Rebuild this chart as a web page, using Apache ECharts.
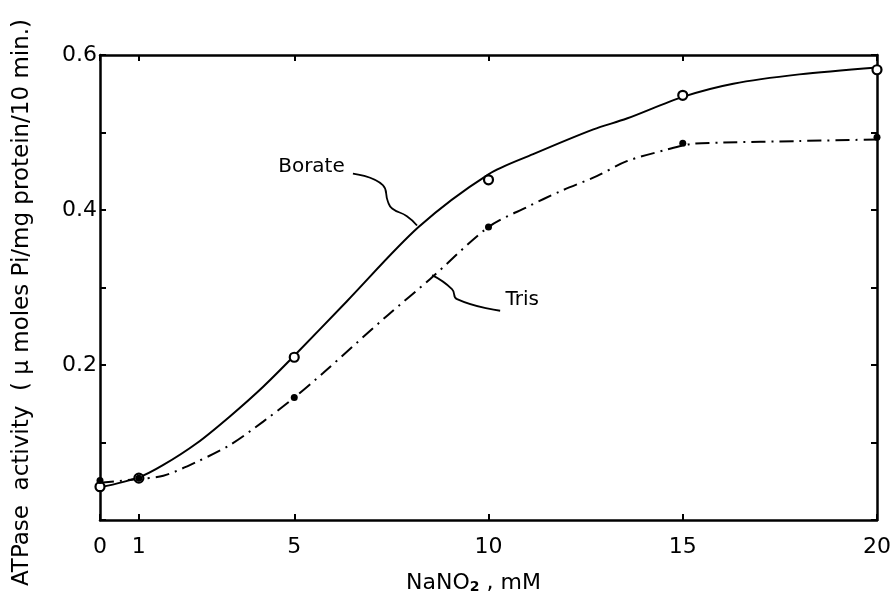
<!DOCTYPE html>
<html><head><meta charset="utf-8">
<script src="https://cdn.jsdelivr.net/npm/echarts@6/dist/echarts.min.js"></script>
<style>html,body{margin:0;padding:0;background:#fff}#c{width:896px;height:600px}</style>
</head><body><div id="c"></div>
<script>
// measured data points
const xPoints = [0, 1, 5, 10, 15, 20];
const borateValues = [0.043, 0.054, 0.210, 0.439, 0.548, 0.581];
const trisValues = [0.051, 0.054, 0.158, 0.378, 0.486, 0.494];
// drawn fitted curves
const borateCurveX = [0, 1, 1.63, 2.49, 3.35, 4.2, 5, 6.35, 8.2, 10, 11.15, 12.7, 13.56, 15, 16.3, 18, 20];
const borateCurveY = [0.042, 0.055, 0.071, 0.099, 0.134, 0.172, 0.212, 0.282, 0.378, 0.446, 0.472, 0.504, 0.518, 0.546, 0.563, 0.575, 0.584];
const trisCurveX = [0, 1, 1.63, 2.49, 3.35, 4.2, 5, 5.75, 7.4, 8.5, 10, 11, 11.84, 12.8, 13.56, 14.6, 15.2, 16, 18, 20];
const trisCurveY = [0.048, 0.053, 0.057, 0.075, 0.097, 0.127, 0.158, 0.19, 0.264, 0.311, 0.378, 0.404, 0.424, 0.444, 0.463, 0.478, 0.485, 0.487, 0.489, 0.491];
const xTicks = [0, 1, 5, 10, 15, 20];
const yTickLabels = ['0.2', '0.4', '0.6'];
// annotations (data coords)
const annotationText = ['Borate', 'Tris'];
const annotationX = [6.3, 11.3];
const annotationY = [0.456, 0.284];
const borateLeaderX = [6.51, 7.28, 7.41, 7.52, 7.9, 8.16];
const borateLeaderY = [0.447, 0.432, 0.411, 0.402, 0.392, 0.380];
const trisLeaderX = [10.3, 9.19, 9.06, 8.55];
const trisLeaderY = [0.270, 0.285, 0.298, 0.316];

const zip = (a, b) => a.map((v, i) => [v, b[i]]);
const F = 'DejaVu Sans';
const chart = echarts.init(document.getElementById('c'));
const axisLine = {onZero: false, lineStyle: {color: '#000', width: 2.5}};
const tick = {inside: true, length: 6, lineStyle: {color: '#000', width: 2}};
chart.setOption({
  animation: false,
  grid: {left: 100, right: 19, top: 55, bottom: 80, containLabel: false, outerBoundsMode: 'none'},
  xAxis: [{
    type: 'value', min: 0, max: 20, position: 'bottom',
    axisLine: axisLine,
    axisTick: Object.assign({customValues: xTicks}, tick),
    axisLabel: {customValues: xTicks, color: '#000', fontFamily: F, fontSize: 22, margin: 16},
    splitLine: {show: false},
    name: 'NaNO{s|2} , mM', nameLocation: 'middle', nameGap: 52,
    nameTextStyle: {color: '#000', fontFamily: F, fontSize: 22, padding: [0, 30, 0, 0],
      rich: {s: {fontSize: 14, fontWeight: 'bold', fontFamily: F, color: '#000', padding: [8, 0, 0, 0]}}}
  }, {
    type: 'value', min: 0, max: 20, position: 'top',
    axisLine: axisLine,
    axisTick: Object.assign({customValues: xTicks}, tick),
    axisLabel: {show: false}, splitLine: {show: false}
  }],
  yAxis: [{
    type: 'value', min: 0, max: 0.6, interval: 0.1, position: 'left',
    axisLine: axisLine, axisTick: tick,
    axisLabel: {color: '#000', fontFamily: F, fontSize: 22, margin: 3,
      formatter: v => { const s = v.toFixed(1); return yTickLabels.includes(s) ? s : ''; }},
    splitLine: {show: false},
    name: 'ATPase  activity  ( μ moles Pi/mg protein/10 min.)', nameLocation: 'middle', nameGap: 66,
    nameTextStyle: {color: '#000', fontFamily: F, fontSize: 23, padding: [0, 0, 0, -30]}
  }, {
    type: 'value', min: 0, max: 0.6, interval: 0.1, position: 'right',
    axisLine: axisLine, axisTick: tick,
    axisLabel: {show: false}, splitLine: {show: false}
  }],
  series: [
    {type: 'line', data: zip(borateCurveX, borateCurveY), smooth: 0.3, showSymbol: false,
     lineStyle: {color: '#000', width: 2}},
    {type: 'line', data: zip(trisCurveX, trisCurveY), smooth: 0.3, showSymbol: false,
     lineStyle: {color: '#000', width: 2, type: [14, 6, 2, 6]}},
    {type: 'scatter', data: zip(xPoints, borateValues), symbol: 'circle', symbolSize: 9,
     itemStyle: {color: '#fff', borderColor: '#000', borderWidth: 2.2, opacity: 1}, z: 5},
    {type: 'scatter', data: zip(xPoints, trisValues), symbol: 'circle', symbolSize: 7,
     itemStyle: {color: '#000', opacity: 1}, z: 6},
    {type: 'line', data: zip(borateLeaderX, borateLeaderY), smooth: 0.5, showSymbol: false,
     lineStyle: {color: '#000', width: 1.8}},
    {type: 'line', data: zip(trisLeaderX, trisLeaderY), smooth: 0.5, showSymbol: false,
     lineStyle: {color: '#000', width: 1.8}},
    {type: 'scatter', symbolSize: 0, z: 10, itemStyle: {opacity: 1, color: '#000'},
     data: annotationText.map((t, i) => ({value: [annotationX[i], annotationY[i]], name: t})),
     label: {show: true, position: 'left', distance: 0, formatter: p => p.name,
       color: '#000', opacity: 1, fontFamily: F, fontSize: 20}}
  ]
});
</script></body></html>
